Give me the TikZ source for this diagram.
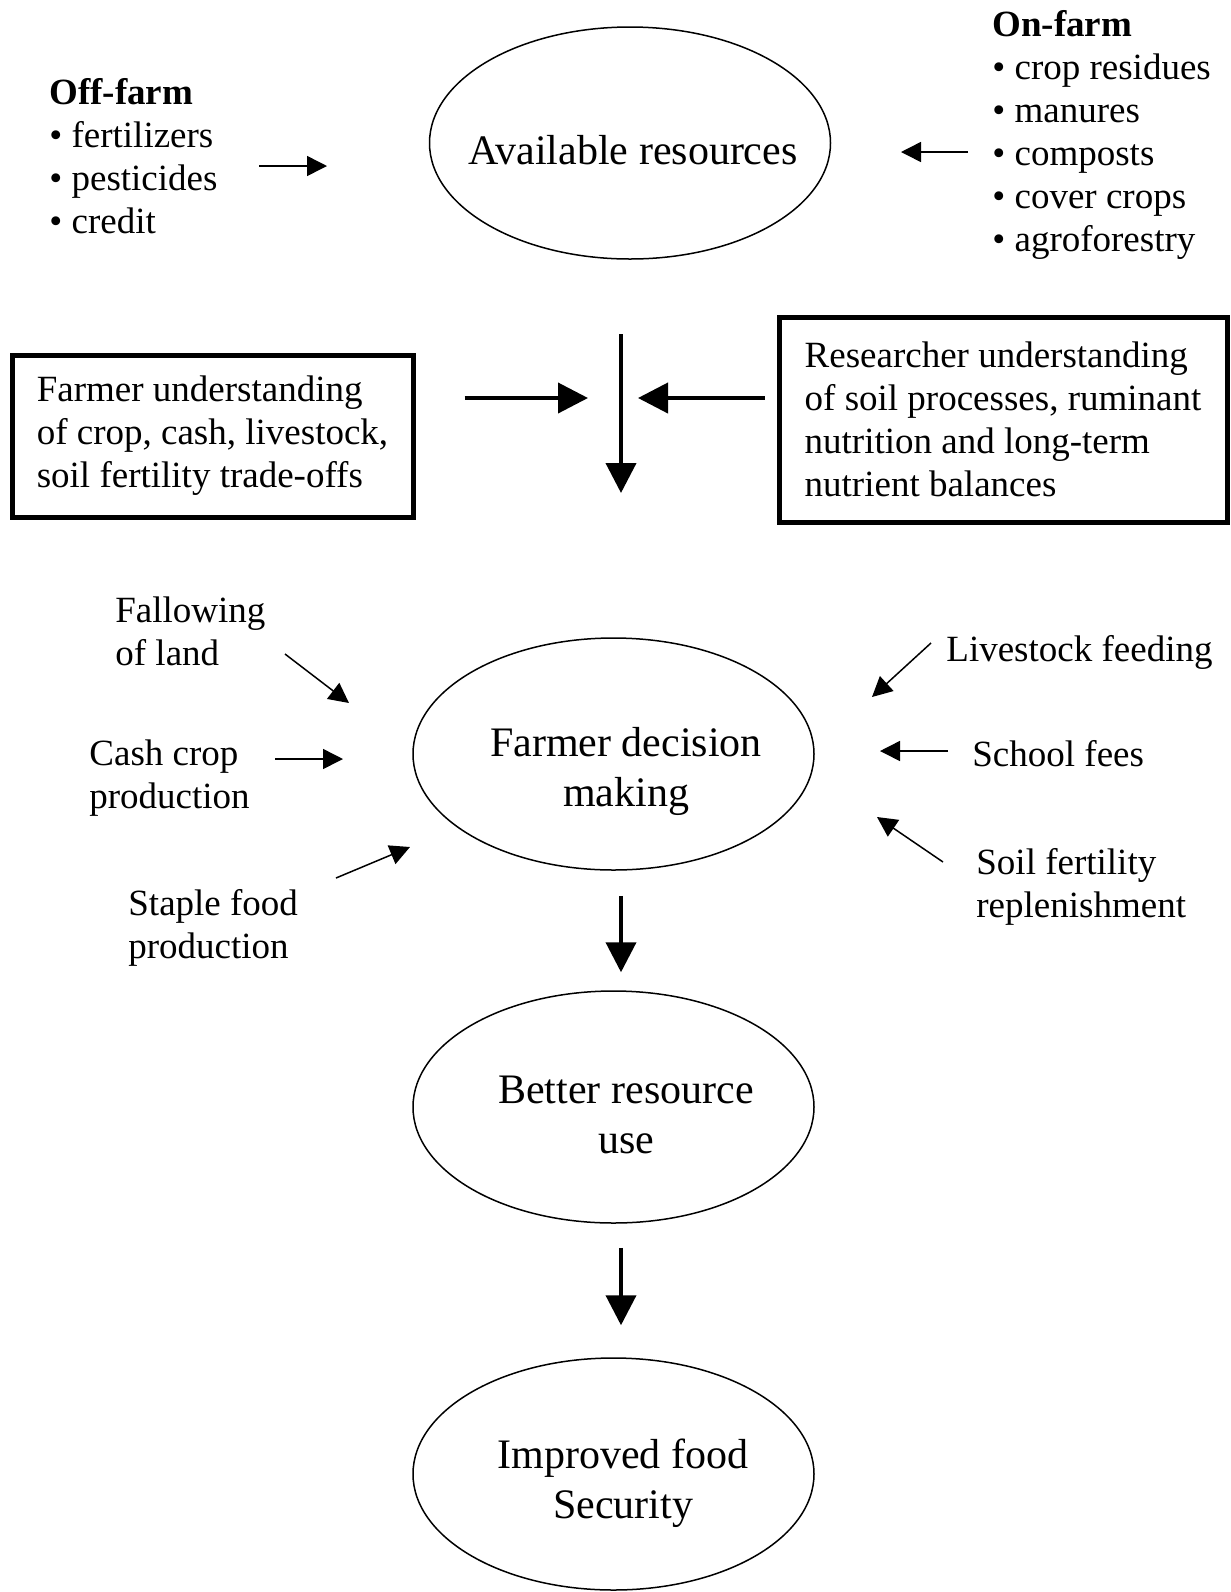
\documentclass[tikz,border=0pt]{standalone}
\usepackage{fontspec}
\setmainfont{Liberation Serif}
\usetikzlibrary{arrows.meta,shapes.geometric}

\tikzset{
  lbl/.style={font=\fontsize{18.5}{21.5}\selectfont, inner sep=0pt, align=left, anchor=base west},
  oval/.style={draw, ellipse, line width=0.75pt, minimum width=200.5pt, minimum height=116pt, inner sep=0pt},
  ovaltext/.style={font=\fontsize{21}{25}\selectfont, inner sep=0pt, align=center, anchor=base},
  infobox/.style={draw, line width=2.5pt, inner xsep=12pt, align=left, font=\fontsize{18.5}{21.5}\selectfont},
  thinarrow/.style={-{Triangle[length=10pt,width=10pt]}, line width=0.75pt},
  bigarrow/.style={-{Triangle[length=15pt,width=15pt]}, line width=2pt},
}

\begin{document}
\begin{tikzpicture}[x=0.5pt,y=-0.5pt]
  \useasboundingbox (0,0) rectangle (1231,1592);

  % resources (multi-line labels sit on their last baseline)
  \node[oval] (avail) at (630,143) {};
  \node[ovaltext] (availtxt) at (633,164) {Available resources};
  \node[lbl] (offfarm) at (49,233) {\textbf{Off-farm}\\• fertilizers\\• pesticides\\• credit};
  \node[lbl] (onfarm) at (992,251) {\textbf{On-farm}\\• crop residues\\• manures\\• composts\\• cover crops\\• agroforestry};

  \coordinate (offS) at (259,166);
  \coordinate (offE) at (327,166);
  \coordinate (onS) at (968,152);
  \coordinate (onE) at (901,152);
  \draw[thinarrow] (offS) -- (offE);
  \draw[thinarrow] (onS) -- (onE);

  % understanding
  \node[infobox, minimum width=200.5pt, minimum height=81pt] (farmerbox) at (212.5,436)
    {Farmer understanding\\of crop, cash, livestock,\\soil fertility trade-offs};
  \node[infobox, minimum width=224pt, minimum height=102.5pt] (researchbox) at (1003,419.5)
    {Researcher understanding\\of soil processes, ruminant\\nutrition and long-term\\nutrient balances};

  \coordinate (mtop) at (621,334);
  \coordinate (mbot) at (621,493);
  \coordinate (mleft) at (588,398);
  \coordinate (mright) at (638,398);
  \draw[bigarrow] (mtop) -- (mbot);
  \draw[bigarrow, shorten <=24.5pt] (farmerbox.east |- mleft) -- (mleft);
  \draw[bigarrow, shorten <=6pt] (researchbox.west |- mright) -- (mright);

  % decision making
  \node[oval] (decision) at (613.5,754) {};
  \node[ovaltext] (decisiontxt) at (626,806) {Farmer decision\\making};

  \node[lbl] (fallow) at (115,665) {Fallowing\\of land};
  \node[lbl] (cash) at (89,808) {Cash crop\\production};
  \node[lbl] (staple) at (128,958) {Staple food\\production};
  \node[lbl] (livestock) at (946,661) {Livestock feeding};
  \node[lbl] (school) at (972,766) {School fees};
  \node[lbl] (soil) at (976,917) {Soil fertility\\replenishment};

  \coordinate (fallowS) at (285,654);
  \coordinate (fallowE) at (349,703);
  \coordinate (cashS) at (275,759);
  \coordinate (cashE) at (343,759);
  \coordinate (stapleS) at (336,878);
  \coordinate (stapleE) at (410,847);
  \coordinate (livestockS) at (931,643);
  \coordinate (livestockE) at (872,697);
  \coordinate (schoolS) at (948,751);
  \coordinate (schoolE) at (880,751);
  \coordinate (soilS) at (943,862);
  \coordinate (soilE) at (877,817);
  \foreach \a in {fallow,cash,staple,livestock,school,soil}
    \draw[thinarrow] (\a S) -- (\a E);

  % outcomes
  \node[oval] (better) at (613.5,1107) {};
  \node[ovaltext] (bettertxt) at (626,1153) {Better resource\\use};
  \node[oval] (improved) at (613.5,1474) {};
  \node[ovaltext] (improvedtxt) at (623,1518) {Improved food\\Security};

  \draw[bigarrow, shorten <=12.5pt, shorten >=9pt]
    ([xshift=3.75pt]decision.south) -- ([xshift=3.75pt]better.north);
  \draw[bigarrow, shorten <=12pt, shorten >=16pt]
    ([xshift=3.75pt]better.south) -- ([xshift=3.75pt]improved.north);
\end{tikzpicture}
\end{document}
